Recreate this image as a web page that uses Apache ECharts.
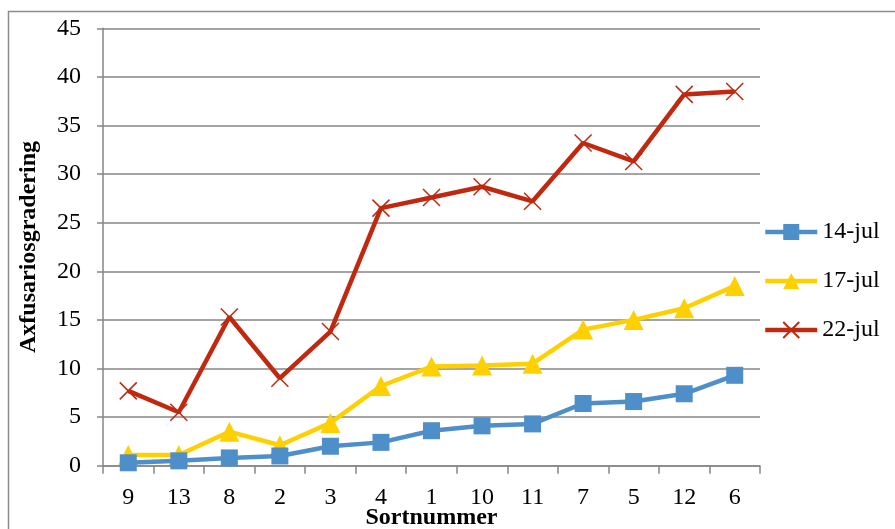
<!DOCTYPE html>
<html>
<head>
<meta charset="utf-8">
<script src="https://cdn.jsdelivr.net/npm/echarts@6/dist/echarts.min.js"></script>
<style>
  html, body { margin: 0; padding: 0; background: #fff; }
  #chart { width: 895px; height: 529px; }
</style>
</head>
<body>
<div id="chart"></div>
<script>
// Sort numbers along the x axis
const categories = ['9', '13', '8', '2', '3', '4', '1', '10', '11', '7', '5', '12', '6'];

// Fusarium grading per sort on three dates
const jul14 = [0.3, 0.5, 0.8, 1.0, 2.0, 2.4, 3.6, 4.1, 4.3, 6.4, 6.6, 7.4, 9.3];
const jul17 = [1.1, 1.1, 3.5, 2.1, 4.4, 8.2, 10.2, 10.3, 10.5, 14.0, 15.0, 16.2, 18.5];
const jul22 = [7.7, 5.5, 15.3, 9.0, 13.8, 26.5, 27.6, 28.7, 27.2, 33.2, 31.3, 38.2, 38.5];

const seriesNames = ['14-jul', '17-jul', '22-jul'];
const yTicks = { min: 0, max: 45, interval: 5 };

const FONT = '"Liberation Serif", "Times New Roman", serif';
const AXIS_GRAY = '#868686';
const LINE_W = 4.5;

const chart = echarts.init(document.getElementById('chart'), null, { renderer: 'canvas' });

const crossPath = 'path://M0,0L10,10M10,0L0,10';

chart.setOption({
  backgroundColor: '#ffffff',
  animation: false,
  graphic: [{
    type: 'rect',
    shape: { x: 8.5, y: 11.5, width: 1000, height: 1000 },
    style: { fill: 'none', stroke: '#8c8c8c', lineWidth: 1.5 },
    silent: true,
    z: -1
  }],
  grid: { left: 103, right: 135, top: 28.3, bottom: 63.3, outerBoundsMode: 'none', containLabel: false },
  legend: {
    orient: 'vertical',
    left: 763,
    top: 220,
    padding: 0,
    itemWidth: 52,
    itemHeight: 20,
    itemGap: 25,
    lineStyle: { width: LINE_W },
    textStyle: { fontFamily: FONT, fontSize: 24, color: '#000', lineHeight: 24 },
    data: seriesNames
  },
  xAxis: {
    type: 'category',
    data: categories,
    boundaryGap: true,
    name: 'Sortnummer',
    nameLocation: 'middle',
    nameGap: 40,
    nameMoveOverlap: false,
    nameTextStyle: { fontFamily: FONT, fontSize: 24, fontWeight: 'bold', color: '#000' },
    axisLine: { lineStyle: { color: AXIS_GRAY, width: 1.5 } },
    axisTick: { show: true, length: 8, alignWithLabel: false, lineStyle: { color: AXIS_GRAY, width: 1.5 } },
    axisLabel: { fontFamily: FONT, fontSize: 24, color: '#000', margin: 20 },
    splitLine: { show: false }
  },
  yAxis: {
    type: 'value',
    min: yTicks.min,
    max: yTicks.max,
    interval: yTicks.interval,
    name: 'Axfusariosgradering',
    nameLocation: 'middle',
    nameGap: 62,
    nameMoveOverlap: false,
    nameTextStyle: { fontFamily: FONT, fontSize: 24, fontWeight: 'bold', color: '#000' },
    axisLine: { show: true, lineStyle: { color: AXIS_GRAY, width: 1.5 } },
    axisTick: { show: true, length: 6, lineStyle: { color: AXIS_GRAY, width: 1.5 } },
    axisLabel: { fontFamily: FONT, fontSize: 24, color: '#000', margin: 22 },
    splitLine: { show: true, lineStyle: { color: AXIS_GRAY, width: 1.5 } }
  },
  series: [
    {
      name: seriesNames[0],
      type: 'line',
      data: jul14,
      symbol: 'rect',
      symbolSize: 17,
      color: '#4F8FC9',
      lineStyle: { width: LINE_W, color: '#4F8FC9' },
      itemStyle: { color: '#4F8FC9' },
      z: 4
    },
    {
      name: seriesNames[1],
      type: 'line',
      data: jul17,
      symbol: 'triangle',
      symbolSize: 20,
      color: '#FFD000',
      lineStyle: { width: LINE_W, color: '#FFD000' },
      itemStyle: { color: '#FFD000' },
      z: 3
    },
    {
      name: seriesNames[2],
      type: 'line',
      data: jul22,
      symbol: crossPath,
      symbolSize: 17,
      color: '#C0290F',
      lineStyle: { width: LINE_W, color: '#C0290F' },
      itemStyle: { color: 'none', borderColor: '#C0290F', borderWidth: 1.5 },
      z: 2
    }
  ]
});
</script>
</body>
</html>
